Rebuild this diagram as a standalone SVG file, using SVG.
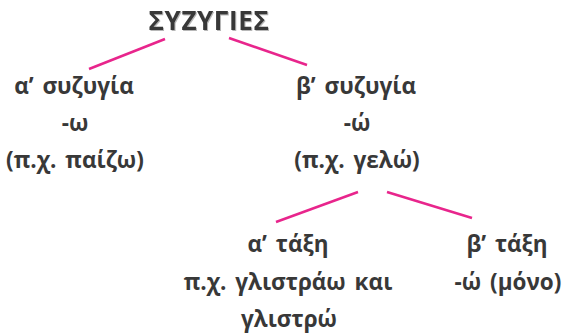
<svg xmlns="http://www.w3.org/2000/svg" width="569" height="333" viewBox="0 0 569 333">
<defs>
<style>
text{font-family:"Open Sans","Noto Sans","DejaVu Sans",sans-serif;font-weight:700;fill:#383838;text-anchor:middle;font-size:22.5px;word-spacing:3px}
.title{font-size:26px;letter-spacing:0.6px;word-spacing:0}
.edge{stroke:#e8258c;stroke-width:2.5;fill:none;stroke-linecap:butt}
</style>
<filter id="sh" x="-10%" y="-30%" width="130%" height="160%">
<feDropShadow dx="1" dy="1" stdDeviation="0.6" flood-color="#999" flood-opacity="0.7"/>
</filter>
</defs>
<g id="connectors">
<line class="edge" x1="165" y1="39" x2="89" y2="69"/>
<line class="edge" x1="229" y1="38" x2="307" y2="65"/>
<line class="edge" x1="358" y1="192" x2="276" y2="222"/>
<line class="edge" x1="387" y1="192" x2="472" y2="218"/>
</g>
<g id="root"><text class="title" x="209" y="30" filter="url(#sh)">ΣΥΖΥΓΙΕΣ</text></g>
<g id="conj-a">
<text x="74" y="94">α’ συζυγία</text>
<text x="75" y="131">-ω</text>
<text x="75" y="168">(π.χ. παίζω)</text>
</g>
<g id="conj-b">
<text x="356" y="94">β’ συζυγία</text>
<text x="357" y="131">-ώ</text>
<text x="357" y="168">(π.χ. γελώ)</text>
</g>
<g id="class-a">
<text x="288" y="252">α’ τάξη</text>
<text x="288" y="290">π.χ. γλιστράω και</text>
<text x="289" y="327">γλιστρώ</text>
</g>
<g id="class-b">
<text x="507" y="252">β’ τάξη</text>
<text x="508" y="290">-ώ (μόνο)</text>
</g>
</svg>
